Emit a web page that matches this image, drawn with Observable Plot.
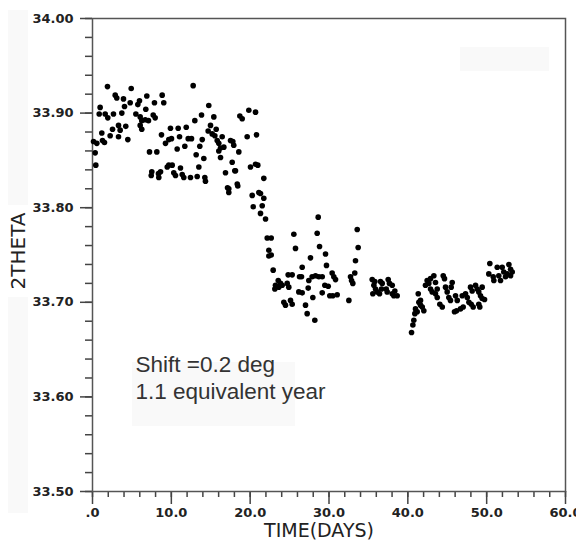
<!DOCTYPE html>
<html>
<head>
<meta charset="utf-8">
<script src="https://cdn.jsdelivr.net/npm/d3@7"></script>
<script src="https://cdn.jsdelivr.net/npm/@observablehq/plot@0.6"></script>
<style>
  html, body { margin: 0; padding: 0; background: #fff; }
  #wrap { position: relative; width: 576px; height: 543px; overflow: hidden; }
  .smudge { position: absolute; background: #f9f9f9; }
  #chart { position: absolute; left: 0; top: 0; }
</style>
</head>
<body>
<div id="wrap">
  <div class="smudge" style="left:8px;top:10px;width:20px;height:195px;"></div>
  <div class="smudge" style="left:8px;top:297px;width:20px;height:216px;"></div>
  <div class="smudge" style="left:132px;top:362px;width:163px;height:64px;"></div>
  <div class="smudge" style="left:460px;top:47px;width:89px;height:24px;"></div>
  <div id="chart"></div>
</div>
<script>
// Time (days) and 2theta readings
const days = [
  0.13,0.34,0.42,0.55,0.85,0.97,1.18,1.27,1.52,1.61,1.9,1.94,2.24,2.54,2.66,2.88,3.08,3.3,3.3,3.51,
  3.72,3.93,4.06,4.22,4.48,4.78,4.91,5.5,5.75,5.96,6.05,6.05,6.25,6.25,6.69,6.76,6.89,7.1,7.23,7.45,
  7.52,7.7,7.86,7.95,8.16,8.37,8.41,8.63,8.75,8.84,9.04,9.26,9.48,9.68,9.68,9.89,10.02,10.11,
  10.31,10.53,10.74,10.87,11.04,11.16,11.38,11.58,11.71,11.89,12.14,12.43,12.56,12.77,12.98,13.15,13.28,13.49,13.61,13.83,
  13.92,14.12,14.25,14.33,14.67,14.75,14.97,15.18,15.39,15.52,15.69,15.82,16.02,16.02,16.24,16.24,16.45,16.66,16.87,17.13,
  17.29,17.29,17.51,17.72,17.8,17.92,18.05,18.14,18.36,18.43,18.56,18.69,18.99,19.62,19.83,20.04,
  20.26,20.39,20.68,20.68,20.8,20.97,21.1,21.31,21.31,21.53,21.73,21.73,21.95,22.16,22.67,22.37,22.37,22.67,22.92,
  23.13,23.21,23.56,23.63,23.85,24.06,24.27,24.48,24.7,24.82,24.9,25.12,25.33,25.33,25.54,25.75,26.17,26.26,
  26.51,26.6,26.6,27.02,27.23,27.36,27.44,27.65,27.86,27.95,28.2,28.29,28.5,28.63,28.71,28.8,29.14,29.14,29.47,29.56,
  29.68,29.9,30.1,30.4,30.48,30.61,30.83,31.04,32.52,32.73,32.86,33.02,33.27,33.36,33.58,33.7,
  35.48,35.56,35.69,35.81,35.9,36.12,36.41,36.53,36.66,36.75,37.26,37.38,37.51,37.67,38.02,38.02,38.22,38.35,38.65,
  40.47,40.64,40.76,40.89,40.97,41.19,41.32,41.4,41.61,41.61,41.83,42.03,42.24,42.45,42.66,42.88,42.88,43.09,43.3,43.51,
  43.51,43.73,43.73,44.06,44.37,44.49,44.65,44.78,44.99,45.2,45.41,45.5,45.63,45.92,46.05,46.18,46.27,46.68,46.9,47.02,
  47.32,47.54,47.75,47.95,48.04,48.16,48.29,48.59,48.8,49.0,49.0,49.13,49.22,49.43,49.43,49.73,
  50.27,50.4,50.83,50.91,51.34,51.54,51.76,51.97,52.17,52.39,52.61,52.82,53.03,53.03,53.24
];
const theta = [
  33.870,33.858,33.845,33.868,33.899,33.906,33.879,33.871,33.869,33.899,33.928,33.895,33.876,33.883,33.899,33.919,33.916,33.887,33.875,33.882,
  33.900,33.915,33.907,33.886,33.872,33.911,33.926,33.899,33.909,33.913,33.896,33.887,33.892,33.883,33.893,33.904,33.918,33.892,33.859,33.834,
  33.838,33.898,33.911,33.895,33.859,33.836,33.832,33.838,33.877,33.919,33.911,33.868,33.843,33.872,33.845,33.884,33.873,33.845,
  33.837,33.834,33.862,33.884,33.875,33.842,33.835,33.832,33.865,33.885,33.873,33.832,33.873,33.929,33.892,33.856,33.833,33.843,33.865,33.898,
  33.872,33.852,33.832,33.828,33.881,33.908,33.887,33.878,33.896,33.876,33.883,33.871,33.868,33.860,33.863,33.853,33.875,33.864,33.837,33.821,
  33.820,33.816,33.871,33.848,33.870,33.866,33.839,33.839,33.825,33.823,33.859,33.897,33.894,33.875,33.903,33.843,
  33.813,33.801,33.901,33.846,33.877,33.845,33.816,33.815,33.794,33.802,33.831,33.810,33.788,33.768,33.768,33.755,33.749,33.750,33.734,
  33.714,33.718,33.723,33.716,33.720,33.718,33.700,33.697,33.720,33.729,33.716,33.702,33.729,33.698,33.772,33.757,33.711,33.727,
  33.727,33.737,33.710,33.697,33.688,33.715,33.723,33.747,33.727,33.705,33.681,33.728,33.773,33.790,33.727,33.759,33.727,33.710,33.718,33.751,
  33.739,33.717,33.707,33.731,33.707,33.727,33.724,33.708,33.702,33.727,33.723,33.720,33.731,33.744,33.777,33.758,
  33.724,33.709,33.718,33.722,33.714,33.711,33.709,33.722,33.714,33.720,33.714,33.711,33.724,33.720,33.718,33.709,33.707,33.712,33.707,
  33.668,33.676,33.681,33.688,33.693,33.690,33.709,33.700,33.697,33.702,33.695,33.691,33.718,33.723,33.720,33.725,33.714,33.711,33.728,33.721,
  33.709,33.705,33.714,33.698,33.695,33.728,33.725,33.716,33.711,33.705,33.702,33.716,33.721,33.690,33.707,33.691,33.702,33.693,33.707,33.695,
  33.709,33.705,33.700,33.716,33.698,33.712,33.695,33.718,33.714,33.711,33.698,33.695,33.707,33.704,33.716,33.703,
  33.730,33.741,33.727,33.723,33.737,33.728,33.723,33.737,33.732,33.727,33.730,33.740,33.735,33.728,33.732
];

const xMajorTicks = [0, 10, 20, 30, 40, 50, 60];
const xTickLabels = [".0", "10.0", "20.0", "30.0", "40.0", "50.0", "60.0"];
const xMinorTicks = d3.range(0, 61, 2);
const yMajorTicks = [33.5, 33.6, 33.7, 33.8, 33.9, 34.0];
const yTickLabels = ["33.50", "33.60", "33.70", "33.80", "33.90", "34.00"];
const yMinorTicks = d3.range(0, 26).map(i => +(33.5 + i * 0.02).toFixed(2));

const xTitle = "TIME(DAYS)";
const yTitle = "2THETA";
const noteText = "Shift =0.2 deg\n1.1 equivalent year";
const notePos = { x: 5.45, y: 33.647 };

const data = days.map((d, i) => ({ t: d, v: theta[i] }));

const axisColor = "#444";
const tickFont = "DejaVu Sans, sans-serif";

const chart = Plot.plot({
  width: 576,
  height: 543,
  marginLeft: 92,
  marginRight: 11,
  marginTop: 18,
  marginBottom: 52,
  style: { background: "transparent", color: "#222", fontFamily: tickFont },
  x: { domain: [0, 60] },
  y: { domain: [33.5, 34.0] },
  marks: [
    Plot.axisX({ ticks: xMinorTicks, tickSize: 6, tickFormat: () => "", stroke: axisColor, strokeWidth: 1.5, label: null }),
    Plot.axisX({ ticks: xMajorTicks, tickSize: 13, tickPadding: 3, stroke: axisColor, strokeWidth: 1.5,
      tickFormat: d => xTickLabels[xMajorTicks.indexOf(d)], fontSize: 13, fontWeight: "bold", fill: "#222", label: null }),
    Plot.axisY({ ticks: yMinorTicks, tickSize: 7, tickFormat: () => "", stroke: axisColor, strokeWidth: 1.5, label: null }),
    Plot.axisY({ ticks: yMajorTicks, tickSize: 12, tickPadding: 7, stroke: axisColor, strokeWidth: 1.5,
      tickFormat: d => yTickLabels[yMajorTicks.findIndex(t => Math.abs(t - d) < 1e-9)], fontSize: 13, fontWeight: "bold", fill: "#222", label: null }),
    Plot.frame({ stroke: "#555", strokeWidth: 1.5 }),
    Plot.dot(data, { x: "t", y: "v", r: 2.8, fill: "#000", stroke: "none" }),
    Plot.text([xTitle], { frameAnchor: "bottom", dx: -10, dy: 39, fontSize: 19, fill: "#222", lineAnchor: "middle", textAnchor: "middle" }),
    Plot.text([yTitle], { frameAnchor: "left", rotate: -90, dx: -74, dy: -4, fontSize: 20, fill: "#222", lineAnchor: "middle", textAnchor: "middle" }),
    Plot.text([noteText], { x: () => notePos.x, y: () => notePos.y, text: d => d,
      fontFamily: "Liberation Sans, Arial, sans-serif", fontSize: 22.5, lineHeight: 1.2, fill: "#333", textAnchor: "start", lineAnchor: "top" })
  ]
});
document.getElementById("chart").appendChild(chart);
</script>
</body>
</html>
